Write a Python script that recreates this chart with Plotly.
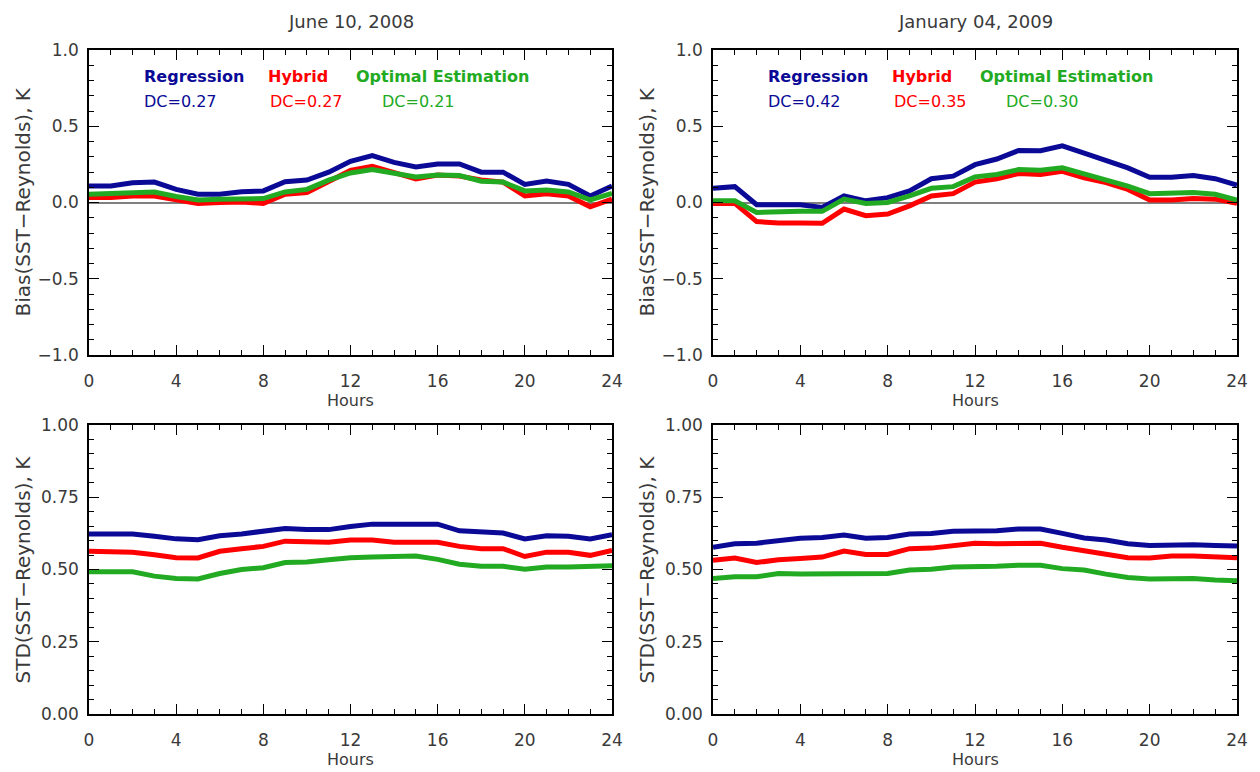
import plotly.graph_objects as go

hours = list(range(25))

# Top-left: June 10, 2008, bias
jun_bias_reg = [0.108, 0.108, 0.130, 0.134, 0.086, 0.054, 0.054, 0.070, 0.076, 0.136, 0.147, 0.199, 0.270,
                0.307, 0.263, 0.233, 0.253, 0.253, 0.199, 0.199, 0.119, 0.140, 0.119, 0.043, 0.108]
jun_bias_hyb = [0.032, 0.032, 0.043, 0.043, 0.017, -0.006, 0.000, 0.004, -0.006, 0.054, 0.065, 0.140, 0.210,
                0.238, 0.199, 0.155, 0.180, 0.173, 0.147, 0.134, 0.043, 0.058, 0.043, -0.028, 0.022]
jun_bias_oe = [0.054, 0.060, 0.069, 0.069, 0.039, 0.017, 0.022, 0.026, 0.026, 0.069, 0.086, 0.147, 0.194,
               0.216, 0.194, 0.168, 0.180, 0.177, 0.140, 0.134, 0.076, 0.082, 0.069, 0.017, 0.060]

# Top-right: January 04, 2009, bias
jan_bias_reg = [0.093, 0.104, -0.015, -0.015, -0.015, -0.032, 0.043, 0.011, 0.032, 0.076, 0.156, 0.173, 0.248,
                0.285, 0.341, 0.339, 0.371, 0.324, 0.276, 0.227, 0.166, 0.166, 0.177, 0.156, 0.114]
jan_bias_hyb = [-0.006, -0.006, -0.125, -0.134, -0.134, -0.136, -0.043, -0.086, -0.076, -0.022, 0.043, 0.058, 0.134,
                0.156, 0.190, 0.184, 0.205, 0.162, 0.130, 0.086, 0.017, 0.017, 0.026, 0.022, -0.006]
jan_bias_oe = [0.011, 0.011, -0.065, -0.058, -0.058, -0.058, 0.022, -0.006, 0.000, 0.043, 0.093, 0.104, 0.168,
               0.184, 0.216, 0.212, 0.227, 0.188, 0.151, 0.108, 0.058, 0.060, 0.065, 0.054, 0.015]

# Bottom-left: June 10, 2008, STD
jun_std_reg = [0.623, 0.623, 0.623, 0.615, 0.606, 0.603, 0.617, 0.623, 0.631, 0.642, 0.638, 0.638, 0.649,
               0.657, 0.657, 0.657, 0.657, 0.634, 0.632, 0.626, 0.606, 0.617, 0.615, 0.606, 0.620]
jun_std_hyb = [0.563, 0.560, 0.560, 0.551, 0.541, 0.540, 0.563, 0.572, 0.580, 0.598, 0.594, 0.594, 0.602,
               0.602, 0.594, 0.594, 0.594, 0.580, 0.572, 0.572, 0.545, 0.560, 0.560, 0.549, 0.566]
jun_std_oe = [0.492, 0.492, 0.492, 0.477, 0.469, 0.467, 0.486, 0.500, 0.506, 0.524, 0.526, 0.534, 0.541,
              0.543, 0.543, 0.547, 0.535, 0.518, 0.511, 0.511, 0.501, 0.509, 0.509, 0.509, 0.513]

# Bottom-right: January 04, 2009, STD
jan_std_reg = [0.577, 0.589, 0.591, 0.600, 0.608, 0.611, 0.619, 0.608, 0.611, 0.623, 0.625, 0.632, 0.632,
               0.634, 0.640, 0.640, 0.625, 0.609, 0.602, 0.589, 0.583, 0.586, 0.586, 0.583, 0.581]
jan_std_hyb = [0.532, 0.540, 0.524, 0.534, 0.538, 0.543, 0.564, 0.552, 0.552, 0.572, 0.574, 0.583, 0.591,
               0.589, 0.589, 0.591, 0.577, 0.566, 0.555, 0.541, 0.540, 0.547, 0.547, 0.543, 0.541]
jan_std_oe = [0.469, 0.475, 0.475, 0.486, 0.484, 0.484, 0.486, 0.486, 0.486, 0.498, 0.501, 0.509, 0.509,
              0.511, 0.515, 0.515, 0.503, 0.498, 0.484, 0.472, 0.467, 0.469, 0.469, 0.464, 0.461]

titles = ["June 10, 2008", "January 04, 2009"]
method_names = ["Regression", "Hybrid", "Optimal Estimation"]
dc_jun = ["DC=0.27", "DC=0.27", "DC=0.21"]
dc_jan = ["DC=0.42", "DC=0.35", "DC=0.30"]
x_ticks = [0, 4, 8, 12, 16, 20, 24]

colors = ["#0a0a96", "#ff0000", "#22aa22"]
FONT = "DejaVu Sans, Liberation Sans, sans-serif"
TXT = "#3a3a3a"
# page body adds an 8px margin; figure starts at (8, 8) in the window
OFF = 8
W, H = 1260 - OFF, 772 - OFF

# panel pixel frames (window coordinates)
xl = [(89, 612), (713, 1237)]
yt = [(50, 355), (425, 714)]


def px(x):
    return (x - OFF) / W


def py(y):
    return 1 - (y - OFF) / H


fig = go.Figure()

panels = [
    (0, 0, [jun_bias_reg, jun_bias_hyb, jun_bias_oe]),
    (1, 0, [jan_bias_reg, jan_bias_hyb, jan_bias_oe]),
    (0, 1, [jun_std_reg, jun_std_hyb, jun_std_oe]),
    (1, 1, [jan_std_reg, jan_std_hyb, jan_std_oe]),
]

annotations = []
for i, (col, row, series) in enumerate(panels):
    n = i + 1
    xa = "x" if n == 1 else f"x{n}"
    ya = "y" if n == 1 else f"y{n}"
    for s, c, name in zip(series, colors, method_names):
        fig.add_trace(go.Scatter(x=hours, y=s, mode="lines", name=name,
                                 line=dict(color=c, width=5), xaxis=xa, yaxis=ya,
                                 showlegend=False))
    axis_common = dict(showline=True, linecolor="black", linewidth=1.5, mirror="ticks",
                       ticks="inside", ticklen=10, tickwidth=1.2, tickcolor="black",
                       showgrid=False, automargin=False,
                       tickfont=dict(family=FONT, size=17, color=TXT))
    xk = "xaxis" if n == 1 else f"xaxis{n}"
    yk = "yaxis" if n == 1 else f"yaxis{n}"
    x0p, x1p = xl[col]
    y0p, y1p = yt[row]
    fig.layout[xk] = dict(domain=[px(x0p), px(x1p)], range=[0, 24], anchor=ya,
                          tickmode="array", tickvals=x_ticks,
                          minor=dict(dtick=1, ticks="inside", ticklen=5, tickcolor="black", tickwidth=1.2),
                          zeroline=False, ticklabelstandoff=10, **axis_common)
    if row == 0:
        fig.layout[yk] = dict(domain=[py(y1p), py(y0p)], range=[-1, 1], anchor=xa,
                              dtick=0.5, tick0=0, tickformat=".1f",
                              minor=dict(dtick=0.1, ticks="inside", ticklen=5, tickcolor="black", tickwidth=1.2),
                              zeroline=True, zerolinecolor="#808080", zerolinewidth=1.5,
                              ticklabelstandoff=5, **axis_common)
    else:
        fig.layout[yk] = dict(domain=[py(y1p), py(y0p)], range=[0, 1], anchor=xa,
                              dtick=0.25, tick0=0, tickformat=".2f",
                              minor=dict(dtick=0.05, ticks="inside", ticklen=5, tickcolor="black", tickwidth=1.2),
                              zeroline=False, ticklabelstandoff=5, **axis_common)

    # Hours label
    annotations.append(dict(text="Hours", xref="paper", yref="paper",
                            x=px((x0p + x1p) / 2), y=py(y1p + 45),
                            xanchor="center", yanchor="middle", showarrow=False,
                            font=dict(family=FONT, size=16, color=TXT)))
    ytitle = "Bias(SST\u2212Reynolds), K" if row == 0 else "STD(SST\u2212Reynolds), K"
    annotations.append(dict(text=ytitle, xref="paper", yref="paper",
                            x=px(x0p - 67), y=py((y0p + y1p) / 2), textangle=-90,
                            xanchor="center", yanchor="middle", showarrow=False,
                            font=dict(family=FONT, size=20, color=TXT)))

# titles
for col, t in enumerate(titles):
    x0p, x1p = xl[col]
    annotations.append(dict(text=t, xref="paper", yref="paper",
                            x=px((x0p + x1p) / 2), y=py(8.5),
                            xanchor="center", yanchor="top", showarrow=False,
                            font=dict(family=FONT, size=18, color=TXT)))

# legend texts inside top panels
name_off = [53, 177, 265]
dc_off = [53, 179, 291]
for col, dcs in enumerate([dc_jun, dc_jan]):
    x0p = xl[col][0]
    for k in range(3):
        annotations.append(dict(text="<b>" + method_names[k] + "</b>", xref="paper", yref="paper",
                                x=px(x0p + name_off[k]), y=py(77),
                                xanchor="left", yanchor="middle", showarrow=False,
                                font=dict(family=FONT, size=16, color=colors[k])))
        annotations.append(dict(text=dcs[k], xref="paper", yref="paper",
                                x=px(x0p + dc_off[k]), y=py(101),
                                xanchor="left", yanchor="middle", showarrow=False,
                                font=dict(family=FONT, size=16, color=colors[k])))

fig.update_layout(width=W, height=H, margin=dict(l=0, r=0, t=0, b=0),
                  paper_bgcolor="white", plot_bgcolor="white",
                  annotations=annotations, showlegend=False)

fig.write_html("out.html")
